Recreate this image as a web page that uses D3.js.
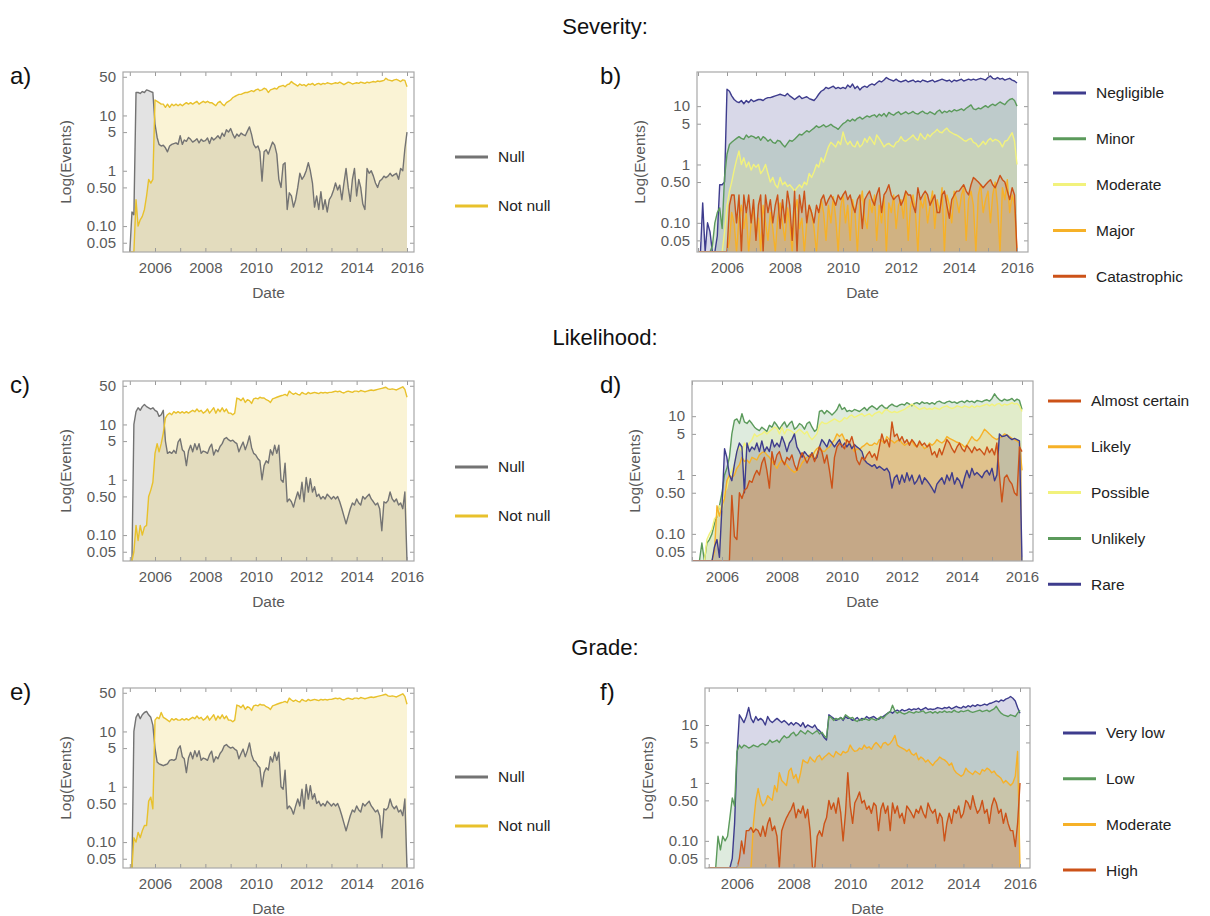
<!DOCTYPE html>
<html><head><meta charset="utf-8">
<script src="https://cdn.jsdelivr.net/npm/d3@7"></script>
<style>body{margin:0;background:#fff}svg{display:block}</style>
</head><body><svg id="chart" width="1210" height="916"></svg>
<script>
// ---------- DATA (monthly, Jan 2005 .. Jan 2016) ----------
const sevNull = [0.02,0.18,0.16,26,26,25,27,26,29,28,27,26,
 7,4,3,2.8,2.9,2.6,2.2,2.8,3.0,3.1,3.2,3.0,
 4.3,3.0,3.6,3.4,4.0,3.7,3.3,3.5,3.8,3.2,3.7,3.4,
 3.5,3.9,3.1,4.0,3.6,3.9,4.3,3.8,4.8,4.2,5.5,5.0,
 5.8,4.6,3.9,4.6,4.2,4.8,4.5,4.3,5.2,6.2,4.5,3.0,
 2.6,2.8,2.2,0.65,2.2,2.4,2.0,2.6,3.3,2.9,2.0,0.7,
 0.5,1.3,1.4,0.2,0.4,0.35,0.22,0.3,0.5,0.9,0.7,0.8,
 1.0,1.4,1.0,0.6,0.22,0.35,0.2,0.42,0.2,0.3,0.18,0.3,
 0.35,0.45,0.6,0.45,0.55,0.3,0.6,1.1,0.5,0.28,0.7,1.1,
 0.35,0.7,0.5,0.25,0.2,1.1,0.9,1.0,0.8,0.6,0.5,0.65,
 0.7,0.8,0.75,0.8,0.9,0.8,0.85,0.9,0.7,1.1,1.0,2.5,
 5];
const sevNotNull = [0.02,0.02,0.02,0.3,0.1,0.13,0.15,0.2,0.35,0.7,0.6,0.7,
 19,18,17,16,16,14,16,14,16,15,16,15,
 16,15,16,17,16,17,16,17,18,16,17,18,
 17,18,17,17,16,15,17,18,16,15,17,18,
 19,21,22,23,24,24,25,26,26,27,28,27,
 29,30,28,29,31,30,26,29,30,31,30,33,
 34,35,33,36,37,41,38,36,34,37,35,36,
 34,37,36,38,35,37,38,36,38,37,39,38,
 37,38,39,38,40,38,36,38,40,39,37,38,
 39,38,40,39,38,40,39,40,41,40,42,41,
 42,43,47,44,43,42,44,45,43,41,44,43,
 33];

const sevNegligible = [0.02,0.02,0.22,0.02,0.1,0.07,0.03,0.02,0.06,0.45,0.45,0.5,
 19.5,18,15,13,12,11.5,12.5,11,12.5,11.5,13,12,
 12.5,13,13,12.5,13.5,14,14,14.5,15,15.5,16,15.5,
 15,16.5,15,14,13,14,15,13.5,14,14.5,13.5,13,
 12.5,14,16,18,19,21,20,21,22,20,21,20,
 21,20,23,21,24,20,22,19,21,22,21,23,
 24,23,25,27,26,28,31,29,28,27,29,27,
 26,27,28,26,27,28,26,27,26,28,27,26,
 27,28,26,27,28,29,28,27,28,26,28,27,
 28,29,27,28,29,28,29,28,29,30,29,28,
 31,33,30,29,31,29,30,28,29,30,28,27,
 25];
const sevMinor = [0.02,0.02,0.02,0.02,0.02,0.02,0.04,0.1,0.15,0.18,0.08,0.6,
 1.5,2.2,2.4,2.6,2.8,3.0,2.8,2.7,3.2,2.9,3.1,3.0,
 2.8,3.0,2.6,3.0,2.8,2.5,2.7,2.4,2.3,2.6,2.5,2.2,
 2.0,2.3,2.6,2.5,2.7,3.0,3.3,3.2,3.5,3.8,3.6,3.9,
 4.2,4.6,4.3,4.5,4.8,4.4,4.6,4.9,4.5,4.3,4.0,4.5,
 5.0,5.3,5.8,5.5,6.0,5.6,6.2,6.5,6.0,6.4,6.8,6.5,
 6.9,7.1,6.5,7.3,6.8,7.5,6.6,7.8,7.3,7.0,7.6,8.0,
 7.2,7.6,8.0,7.4,7.7,8.1,7.5,7.3,7.8,8.2,7.6,7.4,
 8.0,7.6,7.2,8.1,8.6,7.6,8.2,7.8,8.4,8.0,8.7,8.3,
 8.6,9.0,8.4,9.2,9.8,10.5,9.0,8.7,9.3,9.0,9.6,10.2,
 9.5,10.3,10.8,10.2,11.0,11.8,11.2,10.6,12.0,13.0,13.5,12.5,
 10];
const sevModerate = [0.02,0.02,0.02,0.02,0.02,0.02,0.02,0.02,0.02,0.02,0.02,0.07,
 0.2,0.35,0.5,0.8,1.2,1.7,1.0,1.3,0.9,1.1,0.8,1.0,
 0.9,1.0,0.7,0.8,1.0,0.7,0.5,0.6,0.45,0.4,0.6,0.45,
 0.5,0.42,0.45,0.4,0.35,0.4,0.45,0.4,0.5,0.45,0.7,0.6,
 0.75,1.0,0.9,1.3,1.1,1.5,2.0,2.4,2.2,2.0,2.5,2.2,
 3.6,2.6,2.2,2.5,2.1,2.0,2.5,2.0,2.2,2.8,2.4,3.0,
 2.6,2.2,3.2,2.8,2.4,2.0,2.2,2.3,2.1,2.0,2.4,2.5,
 3.0,2.6,2.5,2.7,2.9,3.2,2.8,2.6,3.4,3.0,2.7,3.3,
 3.0,3.4,3.6,4.0,3.6,3.5,3.9,4.2,3.7,3.5,3.3,3.2,
 3.0,2.8,2.6,2.5,2.7,2.8,2.4,2.3,2.0,2.2,2.5,2.2,
 2.6,2.8,2.5,2.7,2.6,2.4,2.0,2.5,2.6,3.0,3.5,2.5,
 1.0];
const sevMajor = [0.02,0.02,0.02,0.02,0.02,0.02,0.02,0.02,0.02,0.02,0.02,0.02,
 0.02,0.05,0.15,0.1,0.02,0.12,0.2,0.08,0.15,0.02,0.1,0.18,
 0.06,0.12,0.02,0.2,0.1,0.05,0.15,0.08,0.02,0.12,0.22,0.1,
 0.05,0.18,0.1,0.02,0.15,0.25,0.08,0.12,0.02,0.1,0.2,0.15,
 0.08,0.02,0.12,0.25,0.15,0.05,0.2,0.1,0.28,0.12,0.02,0.18,
 0.3,0.1,0.2,0.05,0.25,0.15,0.02,0.2,0.35,0.12,0.08,0.25,
 0.15,0.3,0.05,0.2,0.1,0.28,0.02,0.22,0.15,0.3,0.08,0.2,
 0.25,0.12,0.35,0.05,0.2,0.3,0.15,0.02,0.25,0.18,0.3,0.1,
 0.2,0.35,0.08,0.25,0.15,0.4,0.02,0.3,0.2,0.1,0.35,0.25,
 0.15,0.3,0.4,0.05,0.25,0.35,0.2,0.02,0.3,0.45,0.15,0.25,
 0.35,0.1,0.3,0.5,0.2,0.02,0.4,0.25,0.55,0.15,0.3,0.2,
 0.02];
const sevCatastrophic = [0.02,0.02,0.02,0.02,0.02,0.02,0.02,0.02,0.02,0.02,0.02,0.02,
 0.02,0.2,0.3,0.3,0.1,0.3,0.02,0.3,0.15,0.3,0.1,0.25,
 0.05,0.2,0.3,0.02,0.3,0.15,0.25,0.1,0.2,0.3,0.08,0.25,
 0.1,0.35,0.2,0.05,0.35,0.02,0.3,0.15,0.35,0.1,0.2,0.15,
 0.1,0.2,0.15,0.25,0.3,0.2,0.25,0.3,0.25,0.2,0.3,0.25,
 0.3,0.35,0.25,0.3,0.2,0.15,0.25,0.3,0.08,0.25,0.3,0.35,
 0.25,0.2,0.3,0.4,0.15,0.3,0.35,0.45,0.3,0.25,0.28,0.3,
 0.2,0.25,0.35,0.3,0.3,0.2,0.15,0.4,0.25,0.3,0.35,0.3,
 0.2,0.25,0.3,0.15,0.15,0.3,0.35,0.2,0.12,0.25,0.3,0.35,
 0.35,0.4,0.45,0.35,0.3,0.45,0.6,0.55,0.5,0.45,0.4,0.45,
 0.5,0.55,0.45,0.4,0.5,0.65,0.55,0.5,0.35,0.25,0.4,0.3,
 0.02];

const likNull = [0.02,0.02,10,17,20,18,21,23,21,20,19,20,
 18,17,14,15,18,5,3.0,3.2,3.0,3.4,3.0,4.8,
 5.5,3.5,3.2,1.8,3.3,4.2,3.2,4.5,3.5,4.5,3.0,3.3,
 3.2,3.0,3.8,4.4,2.8,3.5,3.2,4.0,4.5,5.5,5.8,5.3,
 5.0,5.2,4.8,4.5,3.2,4.0,4.8,3.5,4.5,6.2,3.8,3.0,
 2.8,2.4,2.2,1.0,1.8,2.2,2.0,3.5,2.8,4.2,3.0,4.2,
 1.0,0.9,2.0,0.4,0.45,0.4,0.32,0.45,0.6,0.45,0.9,0.4,
 1.1,0.6,1.05,0.6,0.75,0.5,0.55,0.45,0.5,0.45,0.55,0.5,
 0.45,0.5,0.45,0.5,0.4,0.3,0.22,0.16,0.22,0.3,0.38,0.35,
 0.45,0.38,0.35,0.5,0.45,0.5,0.55,0.45,0.4,0.35,0.38,0.3,
 0.12,0.4,0.38,0.42,0.6,0.45,0.4,0.45,0.35,0.38,0.3,0.6,
 0.01];
const likNotNull = [0.02,0.02,0.05,0.15,0.08,0.15,0.1,0.14,0.15,0.5,0.65,0.9,
 3.0,4.5,3.2,4.5,7,13,15,16,15,17,16,17,
 16,17,16,17,16,17,18,17,19,17,18,16,
 17,19,16,18,20,16,19,17,20,17,19,16,
 16,15,16,30,29,27,30,25,28,27,24,29,
 30,29,31,30,30,28,27,25,29,30,31,32,
 33,34,35,33,40,37,35,37,35,34,38,36,
 35,38,36,37,38,37,36,38,37,38,37,38,
 38,39,40,39,40,38,37,39,40,39,38,40,
 40,39,41,40,39,40,41,42,41,42,43,44,
 45,46,47,44,43,44,43,42,44,46,48,43,
 31];

const likAlmostCertain = [0.02,0.02,0.02,0.02,0.02,0.02,0.02,0.02,0.02,0.02,0.02,0.02,
 0.02,0.02,0.02,0.03,0.45,0.09,0.08,0.5,0.4,0.55,0.6,0.8,
 0.75,1.0,1.2,1.0,1.6,2.0,1.2,0.6,2.5,1.5,2.2,2.5,
 1.8,1.5,2.0,1.8,2.2,1.5,1.2,1.8,2.4,2.0,1.6,2.0,
 2.3,1.7,2.2,3.0,2.5,1.6,2.2,1.2,0.6,2.0,3.0,3.5,
 3.2,2.8,4.0,3.5,4.5,3.0,1.8,1.5,2.0,1.8,2.2,2.5,
 2.0,2.3,1.8,3.0,5.0,3.5,4.0,3.0,8.0,4.5,5.0,3.8,
 4.5,3.5,4.0,3.2,4.0,3.5,3.0,3.8,3.2,3.5,3.0,3.3,
 2.2,2.5,2.0,2.8,2.2,3.0,4.0,3.5,2.8,2.4,3.0,3.5,
 2.8,2.5,3.2,2.8,2.4,3.0,2.6,2.8,2.5,2.2,3.0,2.4,
 2.8,2.2,3.5,1.0,0.35,0.9,1.0,0.8,0.7,0.5,0.45,3.0,
 2.5];
const likLikely = [0.02,0.02,0.02,0.02,0.02,0.02,0.02,0.02,0.02,0.05,0.3,0.2,
 0.3,0.4,0.8,1.0,0.9,1.0,1.3,1.5,2.0,1.7,1.8,1.6,
 2.0,1.9,1.8,2.2,2.4,2.5,2.2,2.0,1.7,1.5,1.3,1.6,
 1.8,1.6,1.5,1.3,1.2,1.1,1.2,1.3,1.6,1.8,2.0,2.2,
 2.0,2.5,2.8,3.0,2.6,2.5,2.8,3.0,3.5,4.0,5.0,4.5,
 5.0,4.0,3.8,3.5,3.0,2.5,2.8,2.7,3.0,3.2,3.5,3.2,
 3.2,3.5,3.3,4.0,3.8,3.5,4.5,4.0,3.8,3.5,3.8,4.0,
 3.5,3.2,3.4,3.5,3.8,3.2,3.0,3.5,3.2,2.8,3.0,3.5,
 3.2,3.5,4.0,3.7,3.5,3.8,4.5,4.2,4.0,3.8,3.6,3.5,
 3.3,3.0,3.2,3.8,4.5,4.0,3.8,4.2,5.0,6.0,5.5,5.0,
 4.5,4.2,4.0,4.3,4.5,5.0,4.8,4.5,4.2,4.0,3.8,3.5,
 1.2];
const likPossible = [0.02,0.02,0.02,0.02,0.02,0.03,0.08,0.1,0.12,0.18,0.2,0.3,
 0.25,0.5,0.6,1.0,1.2,1.5,2.5,3.0,2.5,3.5,3.0,3.5,
 4.0,5.0,4.5,4.8,5.0,5.5,5.0,5.5,6.0,6.5,6.2,5.0,
 6.5,5.0,6.0,5.8,5.5,5.0,5.5,6.0,5.5,5.0,5.5,4.5,
 4.0,4.5,5.0,7.0,8.0,7.5,7.5,8.0,8.5,9.0,8.5,8.0,
 8.5,9.5,9.0,10,10.5,9.5,10,10.5,11,10,10.5,11,
 10,11,11.5,12,11,12.5,13,12,11.5,12,11.5,12,
 12.5,13,14,15,16,15,14,13,13.5,14,13,13.5,
 13,14,13.5,13,14,14.5,15,14,13.5,14,15,14.5,
 14,15,14.5,14,15,14,15,14.5,15,15.5,16,15,
 16,15,16,16.5,15,16,15.5,16,17,16,16.5,15,
 12];
const likUnlikely = [0.02,0.02,0.02,0.02,0.07,0.02,0.07,0.08,0.1,0.15,0.2,0.3,
 0.5,1.0,1.3,2.0,5.0,8.5,9.0,7.5,11,8.0,7.5,8.5,
 7.5,6.5,6.0,5.7,6.5,6.0,5.5,7.0,6.5,8.0,7.0,6.0,
 7.0,8.0,6.5,7.5,8.2,6.0,6.5,7.5,7.0,6.0,7.5,8.0,
 6.5,5.5,6.0,12,12.5,11,12.5,11.5,10.5,11.5,13,16,
 13,14,12,12.5,12,13,12.5,12,13,14,12.5,14,
 15,14,13,14.5,15.5,14,13.5,15,16,15,14.5,15.5,
 16,15.5,17,16,15,16.5,17,16,17.5,16.5,17,16,
 17,16,17.5,18,17,16.5,17.5,18,17,17.5,16.5,17.5,
 18,17,18.5,17.5,18,17,18.5,18,17.5,18.5,19,18,
 20,24,21,19,18,19.5,18.5,19,20,18,19.5,18.5,
 13];
const likRare = [0.02,0.02,0.02,0.02,0.02,0.02,0.02,0.02,0.02,0.06,0.08,0.04,
 0.3,2.8,2.0,1.0,0.8,1.5,2.5,3.5,3.0,0.5,3.5,2.5,
 3.0,2.7,3.5,2.5,3.8,2.5,3.0,2.5,4.0,3.0,3.5,3.0,
 4.5,3.5,2.5,3.5,4.0,5.0,3.0,2.5,2.0,2.5,2.2,2.0,
 2.4,1.8,2.0,3.0,4.0,3.5,3.0,4.0,3.5,3.0,3.5,4.0,
 3.0,3.5,3.0,3.5,2.8,3.3,3.0,2.8,2.5,1.8,1.6,1.5,
 1.4,1.5,1.3,1.4,1.3,1.2,1.3,1.1,0.6,0.9,1.0,0.7,
 1.0,0.75,1.1,0.8,1.0,0.7,0.8,1.0,0.7,0.9,0.8,0.7,
 0.6,0.5,0.7,0.8,0.9,0.7,1.0,0.8,1.1,0.7,0.9,0.8,
 0.6,0.9,1.2,0.9,1.3,1.0,1.1,1.0,0.9,1.1,1.2,1.0,
 1.3,0.8,1.0,5.0,4.5,4.6,4.8,4.3,4.0,4.2,4.0,3.8,
 0.02];

const grdNull = [0.02,0.02,10,18,21,17,20,22,23,20,18,13,
 5,2.8,2.6,2.5,2.4,2.5,2.6,3.0,3.1,3.0,3.2,4.8,
 5.5,3.5,3.2,1.8,3.3,4.2,3.2,4.5,3.5,4.5,3.0,3.3,
 3.2,3.0,3.8,4.4,2.8,3.5,3.2,4.0,4.5,5.5,5.8,5.3,
 5.0,5.2,4.8,4.5,3.2,4.0,4.8,3.5,4.5,6.2,3.8,3.0,
 2.8,2.4,2.2,1.0,1.8,2.2,2.0,3.5,2.8,4.2,3.0,4.2,
 1.0,0.9,2.0,0.4,0.45,0.4,0.32,0.45,0.6,0.45,0.9,0.4,
 1.1,0.6,1.05,0.6,0.75,0.5,0.55,0.45,0.5,0.45,0.55,0.5,
 0.45,0.5,0.45,0.5,0.4,0.3,0.22,0.16,0.22,0.3,0.38,0.35,
 0.45,0.38,0.35,0.5,0.45,0.5,0.55,0.45,0.4,0.35,0.38,0.3,
 0.12,0.4,0.38,0.42,0.6,0.45,0.4,0.45,0.35,0.38,0.3,0.6,
 0.01];
const grdNotNull = [0.02,0.02,0.12,0.1,0.15,0.12,0.16,0.2,0.2,0.55,0.65,0.4,
 16,18,17,22,18,17,16,15,17,16,17,16,
 16,17,16,17,16,17,18,17,19,17,18,16,
 17,19,16,18,20,16,19,17,20,17,19,16,
 16,15,16,30,29,27,30,25,28,27,24,29,
 30,29,31,30,30,28,27,25,29,30,31,32,
 33,34,35,33,40,37,35,37,35,34,38,36,
 35,38,36,37,38,37,36,38,37,38,37,38,
 38,39,40,39,40,38,37,39,40,39,38,40,
 40,39,41,40,39,40,41,42,41,42,43,44,
 45,46,47,44,43,44,43,42,44,46,48,43,
 31];

const grdVeryLow = [0.02,0.02,0.02,0.02,0.02,0.02,0.02,0.02,0.02,0.03,0.05,0.2,
 3,15,13,11,14,20,13,11,14,12,13,12,
 10,14,12,11,12,13,12,11,12,11,10,11,
 10,11,10.5,9.5,11,9,10,9.5,9,10,8.5,8,
 7,6,5.5,15,14,13,12,12.5,13.5,12,14,13,
 13,12,12.5,13.5,12,13,12.5,14,13,13.5,14,13,
 12.5,13.5,14,15,16,17,16,17.5,18,17,18.5,17.5,
 18,19,18,19,18.5,19.5,18,19,20,18.5,19,18.5,
 19,20,19.5,19,20,19.5,20.5,19,20,21,20,19.5,
 21,20,21.5,20.5,22,21,22.5,21.5,22,23,22,23.5,
 24,25,26,25,27,26,28,29,31,29,26,20,
 16];
const grdLow = [0.02,0.02,0.02,0.02,0.12,0.07,0.12,0.1,0.12,0.25,0.55,0.4,
 3.5,4.5,4.0,4.5,4.3,4.0,4.2,4.5,4.3,4.2,4.6,4.8,
 4.5,4.8,5.5,5.0,5.2,5.5,5.0,5.8,6.5,6.0,6.2,7.0,
 7.5,6.5,7.0,8.0,7.5,7.0,8.0,7.5,7.0,7.5,8.0,7.0,
 7.5,6.5,6.0,14,13.5,12,13,12.5,13.5,12.5,15,14,
 13,13.5,12,11.5,12.5,12,13,12.5,12,13,12.5,12,
 13,14,13,14.5,16,17,22,17.5,16,17,16,15.5,
 16,17,16.5,16,17,16.5,17,17.5,16,16.5,17,16,
 17,16,17,16.5,17.5,16.5,17,16.5,18,17,16.5,17.5,
 17,17.5,18,17,16.5,17,17.5,18,17,17.5,18,17,
 18,19,21,18,16,15,14.5,14,15,14.5,14,16,
 18];
const grdModerate = [0.02,0.02,0.02,0.02,0.02,0.02,0.02,0.02,0.02,0.02,0.02,0.02,
 0.02,0.02,0.02,0.02,0.02,0.02,0.02,0.2,0.5,0.8,0.5,0.4,
 0.45,0.6,0.55,0.5,0.9,0.7,1.5,1.1,1.0,0.9,1.6,1.8,
 1.2,1.4,1.0,1.5,2.5,2.3,2.2,2.8,2.5,2.3,2.8,3.0,
 2.5,2.8,3.0,3.3,3.0,2.8,3.5,3.2,3.0,3.5,3.3,3.5,
 4.5,3.8,3.5,3.6,4.0,3.8,4.5,4.0,4.2,3.8,4.5,5.0,
 4.5,4.0,4.8,5.0,4.5,4.8,5.5,6.6,4.5,4.2,4.0,3.8,
 3.5,3.8,3.2,3.0,3.3,2.5,2.8,2.6,2.3,2.5,2.2,2.0,
 2.3,2.5,2.8,2.6,2.5,2.3,2.0,2.2,1.7,1.5,1.4,1.3,
 1.4,1.8,1.6,1.5,1.4,1.6,1.5,1.4,1.7,1.6,1.8,1.7,
 1.5,1.6,1.4,1.3,1.2,1.0,1.1,1.0,0.9,1.0,1.3,3.5,
 0.02];
const grdHigh = [0.02,0.02,0.02,0.02,0.02,0.02,0.02,0.02,0.02,0.02,0.02,0.02,
 0.02,0.05,0.1,0.06,0.15,0.15,0.17,0.14,0.16,0.15,0.12,0.18,
 0.12,0.2,0.25,0.15,0.18,0.12,0.02,0.15,0.2,0.25,0.3,0.35,
 0.45,0.25,0.35,0.3,0.4,0.25,0.35,0.15,0.02,0.02,0.12,0.15,
 0.12,0.2,0.25,0.5,0.35,0.45,0.3,0.55,0.3,0.1,0.3,1.5,
 0.4,0.2,0.45,0.55,0.7,0.45,0.5,0.35,0.4,0.3,0.45,0.4,
 0.15,0.35,0.45,0.3,0.4,0.15,0.45,0.3,0.4,0.25,0.3,0.2,
 0.4,0.35,0.3,0.25,0.35,0.3,0.4,0.3,0.25,0.45,0.35,0.3,
 0.35,0.2,0.3,0.25,0.1,0.2,0.3,0.2,0.35,0.3,0.4,0.25,
 0.3,0.5,0.45,0.35,0.6,0.4,0.3,0.35,0.5,0.3,0.35,0.2,
 0.4,0.55,0.45,0.3,0.35,0.2,0.3,0.2,0.15,0.15,0.08,0.2,
 1.0];

const ticksLeftPanels = [50, 10, 5, 1, 0.5, 0.1, 0.05];
const ticksRightPanels = [10, 5, 1, 0.5, 0.1, 0.05];
const sectionTitles = ["Severity:", "Likelihood:", "Grade:"];

// ---------- STYLE ----------
const FONT = "'Liberation Sans', Arial, Helvetica, sans-serif";
const C = {gray:"#737373", yellow:"#e8c12c", blue:"#3e3c8d", green:"#5b9a5b",
           pale:"#f2f27c", amber:"#f6b128", red:"#cc5218"};

const svg = d3.select("#chart");
svg.append("rect").attr("width",1210).attr("height",916).attr("fill","#fff");

function panel(cfg){
  const f = cfg.frame;
  const x = d3.scaleTime().domain([new Date(2006,0,1), new Date(2016,0,1)]).range([cfg.x06, cfg.x16]);
  const y = d3.scaleLog().domain(cfg.yDom).range([f.b, f.t]).clamp(true);
  const g = svg.append("g");
  const cid = "clip-" + cfg.id;
  svg.append("clipPath").attr("id", cid).append("rect")
     .attr("x", f.l).attr("y", f.t).attr("width", f.r - f.l).attr("height", f.b - f.t);
  const plot = g.append("g").attr("clip-path", `url(#${cid})`);
  const toPts = vals => vals.map((v,i) => ({d:new Date(2005, i, 1), v}));
  const area = d3.area().x(p => x(p.d)).y0(f.b).y1(p => y(p.v));
  const line = d3.line().x(p => x(p.d)).y(p => y(p.v));
  cfg.series.forEach(s => {
    plot.append("path").datum(toPts(s.values)).attr("d", area)
      .attr("fill", s.color).attr("fill-opacity", 0.2).attr("stroke","none");
  });
  cfg.series.forEach(s => {
    plot.append("path").datum(toPts(s.values)).attr("d", line)
      .attr("fill","none").attr("stroke", s.color).attr("stroke-width", 1.4)
      .attr("stroke-linejoin","round");
  });
  const years = d3.range(2005, 2017).map(yr => new Date(yr,0,1))
      .filter(d => x(d) >= f.l && x(d) <= f.r);
  const styleAxis = a => {
    a.select(".domain").remove();
    a.selectAll(".tick line").attr("stroke","#9a9a9a");
    a.selectAll("text").attr("fill","#5a5a5a").style("font-family",FONT).style("font-size","15px");
  };
  g.append("g").attr("transform",`translate(0,${f.b})`)
    .call(d3.axisBottom(x).tickValues(years).tickSize(-4).tickPadding(10)
      .tickFormat(d => d.getFullYear() % 2 === 0 ? d.getFullYear() : ""))
    .call(styleAxis);
  g.append("g").attr("transform",`translate(0,${f.t})`)
    .call(d3.axisTop(x).tickValues(years).tickSize(-4).tickFormat(""))
    .call(styleAxis);
  g.append("g").attr("transform",`translate(${f.l},0)`)
    .call(d3.axisLeft(y).tickValues(cfg.yTicks).tickSize(-4).tickPadding(7)
      .tickFormat(v => v >= 1 ? String(v) : v.toFixed(2)))
    .call(styleAxis);
  g.append("g").attr("transform",`translate(${f.r},0)`)
    .call(d3.axisRight(y).tickValues(cfg.yTicks).tickSize(-4).tickFormat(""))
    .call(styleAxis);
  g.append("rect").attr("x",f.l).attr("y",f.t).attr("width",f.r-f.l).attr("height",f.b-f.t)
    .attr("fill","none").attr("stroke","#a8a8a8").attr("stroke-width",1.2);
  g.append("text").attr("x",(f.l+f.r)/2).attr("y",f.b+46).attr("text-anchor","middle")
    .attr("fill","#5a5a5a").style("font-family",FONT).style("font-size","15.5px").text("Date");
  g.append("text").attr("transform",`translate(${f.l-cfg.ylabOff},${(f.t+f.b)/2}) rotate(-90)`)
    .attr("text-anchor","middle").attr("fill","#5a5a5a").style("font-family",FONT)
    .style("font-size","15.5px").text("Log(Events)");
  g.append("text").attr("x",cfg.letterX).attr("y",f.t+12).attr("fill","#111")
    .style("font-family",FONT).style("font-size","24px").text(cfg.letter);
  const lg = cfg.legend;
  cfg.series.slice().sort((a,b)=>a.lo-b.lo).forEach((s,i) => {
    const yy = lg.y0 + i*lg.dy;
    g.append("line").attr("x1",lg.x).attr("x2",lg.x+33).attr("y1",yy).attr("y2",yy)
      .attr("stroke",s.color).attr("stroke-width",3);
    g.append("text").attr("x",lg.x+43).attr("y",yy).attr("dy","0.35em").attr("fill","#222")
      .style("font-family",FONT).style("font-size","15.5px").text(s.name);
  });
}

const nn = (name, values, color, lo) => ({name, values, color, lo});

[[sectionTitles[0],34],[sectionTitles[1],345],[sectionTitles[2],655]].forEach(([t,yy]) =>
  svg.append("text").attr("x",605).attr("y",yy).attr("text-anchor","middle").attr("fill","#111")
    .style("font-family",FONT).style("font-size","22px").text(t));

const leftDom = [0.034, 61];
panel({id:"a", letter:"a)", letterX:10, frame:{l:123,r:414,t:72,b:252}, x06:155, x16:407,
  yDom:leftDom, yTicks:ticksLeftPanels, ylabOff:52,
  series:[nn("Null",sevNull,C.gray,0), nn("Not null",sevNotNull,C.yellow,1)],
  legend:{x:455, y0:157, dy:49}});
panel({id:"b", letter:"b)", letterX:600, frame:{l:697,r:1028,t:72,b:252}, x06:727, x16:1017,
  yDom:[0.0316, 38.5], yTicks:ticksRightPanels, ylabOff:52,
  series:[nn("Negligible",sevNegligible,C.blue,0), nn("Minor",sevMinor,C.green,1),
          nn("Moderate",sevModerate,C.pale,2), nn("Major",sevMajor,C.amber,3),
          nn("Catastrophic",sevCatastrophic,C.red,4)],
  legend:{x:1053, y0:93, dy:45.8}});
panel({id:"c", letter:"c)", letterX:10, frame:{l:123,r:414,t:381,b:561}, x06:155, x16:407,
  yDom:leftDom, yTicks:ticksLeftPanels, ylabOff:52,
  series:[nn("Null",likNull,C.gray,0), nn("Not null",likNotNull,C.yellow,1)],
  legend:{x:455, y0:467, dy:49}});
panel({id:"d", letter:"d)", letterX:600, frame:{l:692,r:1033,t:381,b:561}, x06:722, x16:1022,
  yDom:[0.0346, 39.6], yTicks:ticksRightPanels, ylabOff:52,
  series:[nn("Unlikely",likUnlikely,C.green,3), nn("Possible",likPossible,C.pale,2),
          nn("Likely",likLikely,C.amber,1), nn("Rare",likRare,C.blue,4),
          nn("Almost certain",likAlmostCertain,C.red,0)],
  legend:{x:1048, y0:401, dy:45.8}});
panel({id:"e", letter:"e)", letterX:10, frame:{l:123,r:414,t:688,b:868}, x06:155, x16:407,
  yDom:leftDom, yTicks:ticksLeftPanels, ylabOff:52,
  series:[nn("Null",grdNull,C.gray,0), nn("Not null",grdNotNull,C.yellow,1)],
  legend:{x:455, y0:777, dy:49}});
panel({id:"f", letter:"f)", letterX:600, frame:{l:705,r:1030,t:688,b:868}, x06:737, x16:1020,
  yDom:[0.034, 43.5], yTicks:ticksRightPanels, ylabOff:52,
  series:[nn("Very low",grdVeryLow,C.blue,0), nn("Low",grdLow,C.green,1),
          nn("Moderate",grdModerate,C.amber,2), nn("High",grdHigh,C.red,3)],
  legend:{x:1063, y0:733, dy:45.7}});
</script></body></html>
